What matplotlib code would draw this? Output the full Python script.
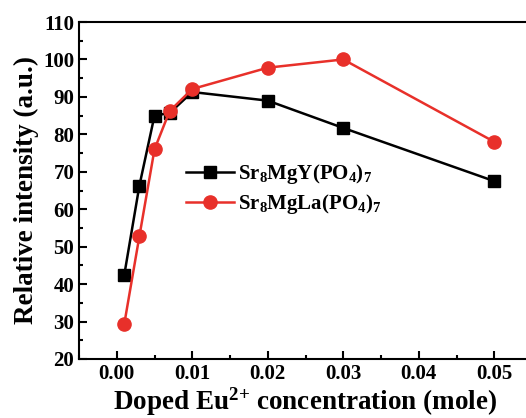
import matplotlib
matplotlib.use("Agg")
from matplotlib import pyplot as plt
from matplotlib.ticker import MultipleLocator
import numpy as np

# data
conc = [0.001, 0.003, 0.005, 0.007, 0.010, 0.020, 0.030, 0.050]
y_sr8mgy = [42.5, 66.3, 85.0, 85.7, 91.3, 89.0, 81.7, 67.5]
y_sr8mgla = [29.4, 52.8, 76.0, 86.2, 92.1, 97.8, 100.0, 78.0]
xticks = [0.00, 0.01, 0.02, 0.03, 0.04, 0.05]
yticks = [20, 30, 40, 50, 60, 70, 80, 90, 100, 110]

plt.rcParams['font.family'] = ['Liberation Serif', 'DejaVu Serif']
plt.rcParams['font.weight'] = 'bold'
plt.rcParams['axes.labelweight'] = 'bold'
plt.rcParams['mathtext.fontset'] = 'custom'
plt.rcParams['mathtext.rm'] = 'Liberation Serif:bold'
plt.rcParams['mathtext.it'] = 'Liberation Serif:bold'
plt.rcParams['mathtext.bf'] = 'Liberation Serif:bold'

fig = plt.figure(figsize=(5.26, 4.18), dpi=100)
# axes box runs past the right edge, as in the cropped original
ax = fig.add_axes([79/526, 1 - 359/418, (532 - 79)/526, (359 - 22)/418])

ax.plot(conc, y_sr8mgy, color='black', lw=1.8, marker='s', ms=8,
        label=r'Sr$_8$MgY(PO$_4$)$_7$')
ax.plot(conc, y_sr8mgla, color='#e8302a', lw=1.8, marker='o', ms=9.5,
        mec='#e8302a', label=r'Sr$_8$MgLa(PO$_4$)$_7$')

ax.set_xlim(-0.005, 0.055)
ax.set_ylim(20, 110)
ax.set_xticks(xticks)
ax.set_xticklabels(['%.2f' % v for v in xticks], fontweight='bold')
ax.set_yticks(yticks)
ax.set_yticklabels([str(v) for v in yticks], fontweight='bold')
ax.xaxis.set_minor_locator(MultipleLocator(0.005))
ax.yaxis.set_minor_locator(MultipleLocator(5))
ax.tick_params(which='both', direction='in', labelsize=15, width=1.5)
ax.tick_params(which='major', length=6)
ax.tick_params(which='minor', length=3)
for s in ax.spines.values():
    s.set_linewidth(1.5)

ax.set_xlabel(r'Doped Eu$^{2{+}}$ concentration (mole)', fontsize=19.5,
              fontweight='bold', labelpad=1)
ax.set_ylabel('Relative intensity (a.u.)', fontsize=19.5, fontweight='bold',
              labelpad=3)

ax.legend(loc='upper left', bbox_to_anchor=(0.195, 0.64), frameon=False,
          prop={'size': 15, 'weight': 'bold'}, handlelength=2.3,
          handletextpad=0.2, labelspacing=0.3)

fig.savefig('out.png', dpi=100)
